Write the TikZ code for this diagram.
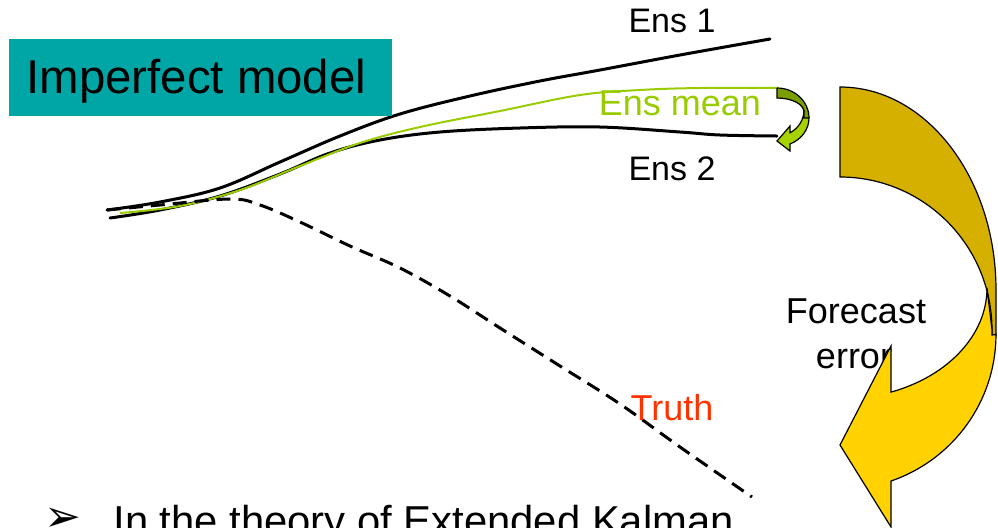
\documentclass[tikz,border=0pt]{standalone}
\usepackage{fontspec}
\setmainfont{Liberation Sans}
\newfontfamily\symfont{DejaVu Sans}

\definecolor{boxteal}{RGB}{0,166,166}
\definecolor{meangreen}{RGB}{153,204,0}
\definecolor{truthred}{RGB}{255,51,0}
\definecolor{bigback}{RGB}{214,176,0}
\definecolor{bigfront}{RGB}{255,210,0}
\definecolor{smallback}{RGB}{122,158,0}
\definecolor{smallfront}{RGB}{166,210,0}

\begin{document}
\begin{tikzpicture}[x=0.5pt, y=-0.5pt,
  member/.style={line width=1.5pt, line cap=round},
  enstext/.style={anchor=base, inner sep=0pt, font=\fontsize{17}{20}\selectfont},
  bigtext/.style={anchor=base, inner sep=0pt, font=\fontsize{18}{21}\selectfont},
  arrowline/.style={draw=black, line width=0.6pt, line join=miter}]

  % frame of the slide part (pixel units, y downwards)
  \useasboundingbox (0,0) rectangle (998,527);
  \clip (0,0) rectangle (998,527);

  % --- Ensemble members ---
  \draw[member] plot[smooth, tension=0.6] coordinates {(107,210) (160,202) (220,188)
    (280,162) (340,136) (400,114) (470,96) (540,81) (600,70) (680,55) (770,39)};
  \draw[member] plot[smooth, tension=0.6] coordinates {(110,218) (160,210) (220,196)
    (280,174) (330,153) (380,140) (440,132) (520,128) (600,127) (680,132) (720,135) (777,136)};

  % --- Ensemble mean (thin green) ---
  \draw[meangreen, line width=1pt] plot[smooth, tension=0.6] coordinates {(120,213)
    (180,206) (240,190) (300,166) (360,143) (420,127) (500,111) (580,95) (640,90)
    (700,88) (778,88)};

  % --- Truth (dashed) ---
  \draw[member, line cap=butt, dash pattern=on 7pt off 4pt] plot[smooth, tension=0.6]
    coordinates {(107,210) (160,205) (230,199) (260,205) (300,222) (350,246) (400,268)
    (450,296) (500,328) (560,366) (620,404) (680,447) (752,497)};

  % --- Small curved arrow at the end of the mean ---
  \fill[smallback] (777,88) arc[start angle=-90, end angle=0, x radius=32, y radius=30]
    -- (804,118) -- (804,112) arc[start angle=0, end angle=-90, x radius=27, y radius=14] -- cycle;
  \draw[arrowline] (777,88) arc[start angle=-90, end angle=0, x radius=32, y radius=30]
    (804,112) arc[start angle=0, end angle=-90, x radius=27, y radius=14] -- (777,88);
  \filldraw[fill=smallfront, arrowline] (804,110)
    arc[start angle=0, end angle=61, x radius=27, y radius=26]
    -- (790,126) -- (777,141) -- (790,151) -- (790,144)
    arc[start angle=66, end angle=0, x radius=32, y radius=28.4] -- (804,118) -- cycle;

  % --- Labels ---
  \node[enstext] (ens1) at (672,32) {Ens 1};
  \node[bigtext, meangreen] (ensmean) at (680,115) {Ens mean};
  \node[enstext] (ens2) at (672,180) {Ens 2};
  \node[bigtext, truthred] (truth) at (672,420) {Truth};
  \node[bigtext] (forecast) at (856,323) {Forecast};
  \node[bigtext] (error) at (854,368) {error};

  % --- Big curved arrow: back band (dark) ---
  \filldraw[fill=bigback, arrowline] (840,87)
    arc[start angle=-90, end angle=0, x radius=156, y radius=203]
    -- (996,335) -- (992,335) -- (992,330)
    arc[start angle=0, end angle=-90, x radius=152, y radius=153] -- cycle;

  % --- Big curved arrow: front band with head ---
  \filldraw[fill=bigfront, arrowline] (987,288)
    arc[start angle=0, end angle=69.7, x radius=147, y radius=111]
    -- (891,346) -- (840,445) -- (891,527) -- (891,481)
    arc[start angle=70.9, end angle=0, x radius=156, y radius=155]
    -- (992,335) -- (992,330) -- cycle;

  % --- Title box ---
  \fill[boxteal] (9,39) rectangle (392,116);
  \node[anchor=base west, inner sep=0pt, font=\fontsize{23.7}{28}\selectfont]
    (title) at (26,93) {Imperfect model};

  % --- Bullet line (cut by the frame) ---
  \node[anchor=base west, inner sep=0pt, font=\symfont\fontsize{22}{26}\selectfont]
    (bullet) at (44,531) {➢};
  \node[anchor=base west, inner sep=0pt, font=\fontsize{20.9}{25}\selectfont]
    (bodytext) at (113,535) {In the theory of Extended Kalman};

\end{tikzpicture}
\end{document}
